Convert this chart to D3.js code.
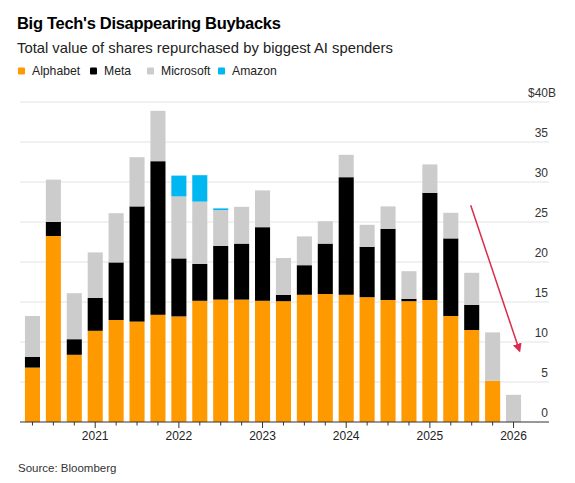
<!DOCTYPE html>
<html>
<head>
<meta charset="utf-8">
<script src="https://cdn.jsdelivr.net/npm/d3@7"></script>
<style>
  body { margin: 0; background: #fff; }
  svg { font-family: "Liberation Sans", Arial, Helvetica, sans-serif; }
</style>
</head>
<body>
<div id="chart"></div>
<script>
// --- DATOS (miles de millones USD por trimestre) ---
const quarters = [
  "2020 Q1", "2020 Q2", "2020 Q3", "2020 Q4",
  "2021 Q1", "2021 Q2", "2021 Q3", "2021 Q4",
  "2022 Q1", "2022 Q2", "2022 Q3", "2022 Q4",
  "2023 Q1", "2023 Q2", "2023 Q3", "2023 Q4",
  "2024 Q1", "2024 Q2", "2024 Q3", "2024 Q4",
  "2025 Q1", "2025 Q2", "2025 Q3", "2025 Q4"
];
const alphabet  = [6.8, 23.25, 8.4, 11.4, 12.75, 12.55, 13.4, 13.2, 15.15, 15.3, 15.3, 15.15, 15.1, 15.9, 16.0, 15.9, 15.6, 15.25, 15.1, 15.25, 13.25, 11.5, 5.15, 0];
const meta      = [1.35, 1.75, 1.95, 4.1, 7.2, 14.4, 19.2, 7.25, 4.6, 6.7, 7.0, 9.2, 0.8, 3.7, 6.3, 14.7, 6.3, 8.9, 0.3, 13.4, 9.7, 3.15, 0, 0];
const microsoft = [5.1, 5.3, 5.75, 5.7, 6.15, 6.15, 6.3, 7.75, 7.8, 4.5, 4.6, 4.6, 4.6, 3.6, 2.8, 2.8, 2.75, 2.8, 3.45, 3.55, 3.2, 4.0, 6.05, 3.4];
const amazon    = [0, 0, 0, 0, 0, 0, 0, 2.6, 3.3, 0.2, 0, 0, 0, 0, 0, 0, 0, 0, 0, 0, 0, 0, 0, 0];

const companies = ["Alphabet", "Meta", "Microsoft", "Amazon"];
const colors = ["#ff9900", "#000000", "#cccccc", "#00b7f1"];

const yTicks = [0, 5, 10, 15, 20, 25, 30, 35, 40];
// trimestres donde cae la marca de año (fin de trimestre ~ 1 de enero)
const yearTickQuarters = ["2020 Q4", "2021 Q4", "2022 Q4", "2023 Q4", "2024 Q4", "2025 Q4"];
const yearLabels = ["2021", "2022", "2023", "2024", "2025", "2026"];

// --- CONFIGURACIÓN ---
const W = 575, H = 483;
const plot = { left: 20, right: 549, top: 102, bottom: 422 };

const svg = d3.select("#chart").append("svg")
  .attr("width", W).attr("height", H);

const table = quarters.map((q, i) => ({
  q, Alphabet: alphabet[i], Meta: meta[i], Microsoft: microsoft[i], Amazon: amazon[i]
}));
const series = d3.stack().keys(companies)(table);

const x = d3.scaleBand()
  .domain(quarters)
  .range([22, 524])
  .paddingInner(0.28)
  .paddingOuter(0.14);

const y = d3.scaleLinear()
  .domain([0, 40])
  .range([plot.bottom, plot.top]);

// --- TÍTULOS ---
svg.append("text").attr("x", 17).attr("y", 29)
  .attr("font-size", 16.5).attr("font-weight", "bold").attr("fill", "#000")
  .attr("letter-spacing", -0.3)
  .text("Big Tech's Disappearing Buybacks");
svg.append("text").attr("x", 17).attr("y", 53)
  .attr("font-size", 14.8).attr("fill", "#222")
  .text("Total value of shares repurchased by biggest AI spenders");

// Leyenda
const legendX = [18, 90, 147, 218];
const legend = svg.append("g");
companies.forEach((c, i) => {
  legend.append("rect")
    .attr("x", legendX[i]).attr("y", 67.5)
    .attr("width", 7).attr("height", 7).attr("rx", 1)
    .attr("fill", colors[i]);
  legend.append("text")
    .attr("x", legendX[i] + 14).attr("y", 74.5)
    .attr("font-size", 12.2).attr("fill", "#222")
    .text(c);
});

// --- REJILLA Y EJE Y ---
svg.append("g").selectAll("line")
  .data(yTicks.filter(d => d > 0))
  .join("line")
  .attr("x1", plot.left).attr("x2", plot.right)
  .attr("y1", d => y(d)).attr("y2", d => y(d))
  .attr("stroke", "#e3e3e3").attr("stroke-width", 1);

svg.append("g").selectAll("text")
  .data(yTicks)
  .join("text")
  .attr("x", 548)
  .attr("y", d => y(d) - 5.5)
  .attr("text-anchor", "end")
  .attr("font-size", 12).attr("fill", "#333")
  .text(d => d === 40 ? "$40" : d);
// la "B" del máximo cuelga a la derecha
svg.append("text")
  .attr("x", 548).attr("y", y(40) - 5.5)
  .attr("font-size", 12).attr("fill", "#333")
  .text("B");

// --- BARRAS ---
svg.append("g").selectAll("g")
  .data(series)
  .join("g")
  .attr("fill", (d, i) => colors[i])
  .selectAll("rect")
  .data(d => d.filter(p => p[1] - p[0] > 0))
  .join("rect")
  .attr("x", d => x(d.data.q))
  .attr("y", d => y(d[1]))
  .attr("width", x.bandwidth())
  .attr("height", d => y(d[0]) - y(d[1]));

// --- EJE X ---
svg.append("line")
  .attr("x1", plot.left).attr("x2", plot.right)
  .attr("y1", plot.bottom).attr("y2", plot.bottom)
  .attr("stroke", "#333").attr("stroke-width", 1.2);

svg.append("g").selectAll("line")
  .data(quarters)
  .join("line")
  .attr("x1", d => x(d) + x.bandwidth() / 2)
  .attr("x2", d => x(d) + x.bandwidth() / 2)
  .attr("y1", plot.bottom)
  .attr("y2", d => plot.bottom + (yearTickQuarters.includes(d) ? 6 : 3.5))
  .attr("stroke", "#333").attr("stroke-width", 1);

svg.append("g").selectAll("text")
  .data(yearTickQuarters)
  .join("text")
  .attr("x", d => x(d) + x.bandwidth() / 2)
  .attr("y", 440)
  .attr("text-anchor", "middle")
  .attr("font-size", 12).attr("fill", "#222")
  .text((d, i) => yearLabels[i]);

// --- FLECHA DE TENDENCIA ---
const arrowColor = "#dc2a4e";
const defs = svg.append("defs");
defs.append("marker")
  .attr("id", "arrowhead")
  .attr("viewBox", "0 0 10 10")
  .attr("refX", 8).attr("refY", 5)
  .attr("markerWidth", 6).attr("markerHeight", 6)
  .attr("markerUnits", "strokeWidth")
  .attr("orient", "auto")
  .append("path")
  .attr("d", "M0,0 L10,5 L0,10 Z")
  .attr("fill", arrowColor);

const ax0 = x("2025 Q2") + x.bandwidth() / 2 - 1;
const ax1 = x("2025 Q4") + x.bandwidth() / 2 + 6;
svg.append("line")
  .attr("x1", ax0).attr("y1", y(27.1))
  .attr("x2", ax1).attr("y2", y(8.9))
  .attr("stroke", arrowColor).attr("stroke-width", 1.5)
  .attr("marker-end", "url(#arrowhead)");

// --- FUENTE ---
svg.append("text").attr("x", 18).attr("y", 471.5)
  .attr("font-size", 11.5).attr("fill", "#333")
  .text("Source: Bloomberg");
</script>
</body>
</html>
